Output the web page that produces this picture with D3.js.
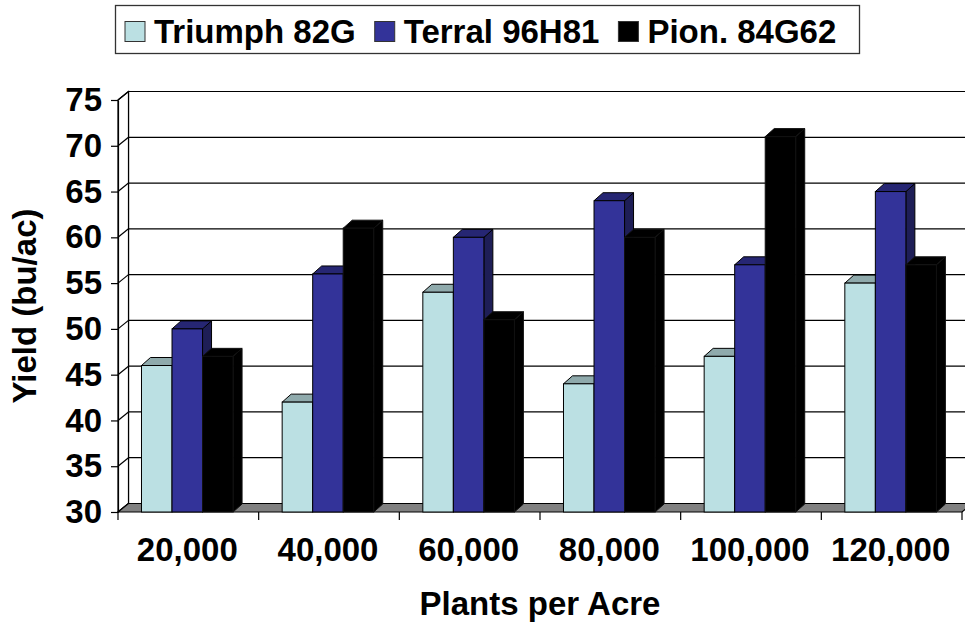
<!DOCTYPE html>
<html>
<head>
<meta charset="utf-8">
<script src="https://cdn.jsdelivr.net/npm/d3@7/dist/d3.min.js"></script>
<style>
  html, body { margin: 0; padding: 0; background: #fff; }
  svg { display: block; }
  text { font-family: "Liberation Sans", Arial, sans-serif; font-weight: bold; fill: #000; }
</style>
</head>
<body>
<svg id="chart" width="965" height="624"></svg>
<script>
// ---- data ----
const categories = ["20,000", "40,000", "60,000", "80,000", "100,000", "120,000"];
const seriesNames = ["Triumph 82G", "Terral 96H81", "Pion. 84G62"];
const triumph = [46, 42, 54, 44, 47, 55];
const terral  = [50, 56, 60, 64, 57, 65];
const pioneer = [47, 61, 51, 60, 71, 57];
const yTicks = [30, 35, 40, 45, 50, 55, 60, 65, 70, 75];
const yTitle = "Yield (bu/ac)";
const xTitle = "Plants per Acre";

(function () {
const FS = 33;
const colors = [
  { front: "#BBE0E3", top: "#8FAAAC", side: "#7E9799", stroke: "#000" },
  { front: "#333399", top: "#262673", side: "#1E1E56", stroke: "#000" },
  { front: "#000000", top: "#000000", side: "#000000", stroke: "#111" }
];
const values = [triumph, terral, pioneer];

const svg = d3.select("#chart");
const pLeft = 118, pRight = 962, pBottom = 512, pTop = 100;
const WDX = 10.5, WDY = -8.5;   // wall depth
const BDX = 9, BDY = -8;        // bar depth

const x = d3.scaleBand().domain(categories).range([pLeft, pRight]).paddingInner(0).paddingOuter(0);
const y = d3.scaleLinear().domain([30, 75]).range([pBottom, pTop]);
const band = x.bandwidth();
const barW = band * 0.217;
const groupOff = band * 0.167;

// back wall
const g = svg.append("g");
g.append("rect")
  .attr("x", pLeft + WDX).attr("y", y(75) + WDY)
  .attr("width", pRight - pLeft + 20).attr("height", y(30) - y(75))
  .attr("fill", "#fff").attr("stroke", "none");

g.selectAll("line.grid").data(yTicks.filter(v => v > 30)).enter().append("line")
  .attr("x1", pLeft + WDX).attr("x2", pRight + WDX + 20)
  .attr("y1", d => y(d) + WDY).attr("y2", d => y(d) + WDY)
  .attr("stroke", "#000").attr("stroke-width", 1.2);
g.append("line")
  .attr("x1", pLeft + WDX).attr("x2", pLeft + WDX)
  .attr("y1", y(75) + WDY).attr("y2", y(30) + WDY)
  .attr("stroke", "#000").attr("stroke-width", 1.2);

// side wall
g.append("path")
  .attr("d", `M${pLeft},${y(75)} L${pLeft + WDX},${y(75) + WDY} L${pLeft + WDX},${y(30) + WDY} L${pLeft},${y(30)} Z`)
  .attr("fill", "#fff").attr("stroke", "#000").attr("stroke-width", 1.2);
g.selectAll("line.sgrid").data(yTicks).enter().append("line")
  .attr("x1", pLeft).attr("x2", pLeft + WDX)
  .attr("y1", d => y(d)).attr("y2", d => y(d) + WDY)
  .attr("stroke", "#000").attr("stroke-width", 1.2);

// floor
g.append("path")
  .attr("d", `M${pLeft},${y(30)} L${pLeft + WDX},${y(30) + WDY} L${pRight + WDX},${y(30) + WDY} L${pRight},${y(30)} Z`)
  .attr("fill", "#808080").attr("stroke", "#000").attr("stroke-width", 1.2);

// bars
const bars = [];
categories.forEach((c, ci) => {
  values.forEach((arr, si) => { bars.push({ c, si, v: arr[ci] }); });
});
const bg = svg.append("g");
bars.forEach(b => {
  const x0 = x(b.c) + groupOff + b.si * barW;
  const x1 = x0 + barW;
  const yt = y(b.v), yb = y(30);
  const col = colors[b.si];
  bg.append("path")
    .attr("d", `M${x1},${yt} L${x1 + BDX},${yt + BDY} L${x1 + BDX},${yb + BDY} L${x1},${yb} Z`)
    .attr("fill", col.side).attr("stroke", col.stroke).attr("stroke-width", 1).attr("stroke-linejoin", "round");
  bg.append("path")
    .attr("d", `M${x0},${yt} L${x0 + BDX},${yt + BDY} L${x1 + BDX},${yt + BDY} L${x1},${yt} Z`)
    .attr("fill", col.top).attr("stroke", col.stroke).attr("stroke-width", 1).attr("stroke-linejoin", "round");
  bg.append("rect")
    .attr("x", x0).attr("y", yt).attr("width", barW).attr("height", yb - yt)
    .attr("fill", col.front).attr("stroke", col.stroke).attr("stroke-width", 1);
});

// y axis
const yAxis = d3.axisLeft(y).tickValues(yTicks).tickSize(7).tickSizeOuter(0).tickPadding(9);
const ya = svg.append("g").attr("transform", `translate(${pLeft},0)`).call(yAxis);
ya.select(".domain").attr("stroke", "#000").attr("stroke-width", 1.2);
ya.selectAll(".tick line").attr("stroke", "#000").attr("stroke-width", 1.2);
ya.selectAll(".tick text").attr("font-size", FS).attr("font-family", "Liberation Sans, Arial, sans-serif").attr("font-weight", "bold").attr("fill", "#000");

// x axis: ticks at category boundaries
const bounds = categories.map(c => x(c)).concat([pRight]);
svg.append("g").selectAll("line").data(bounds).enter().append("line")
  .attr("x1", d => d).attr("x2", d => d).attr("y1", pBottom).attr("y2", pBottom + 8)
  .attr("stroke", "#000").attr("stroke-width", 1.2);
const xAxis = d3.axisBottom(x).tickSize(0).tickPadding(0);
const xa = svg.append("g").attr("transform", `translate(0,${pBottom})`).call(xAxis);
xa.select(".domain").remove();
xa.selectAll(".tick text")
  .attr("font-size", FS).attr("font-family", "Liberation Sans, Arial, sans-serif").attr("font-weight", "bold").attr("fill", "#000")
  .attr("dy", null).attr("y", 49).attr("x", -1);

// axis titles
svg.append("text").attr("x", (pLeft + pRight) / 2).attr("y", 615)
  .attr("text-anchor", "middle").attr("font-size", FS).text(xTitle);
svg.append("text").attr("transform", "translate(36,306) rotate(-90)")
  .attr("text-anchor", "middle").attr("font-size", FS).text(yTitle);

// legend
const lg = svg.append("g");
lg.append("rect").attr("x", 115.5).attr("y", 5.5).attr("width", 744).attr("height", 48)
  .attr("fill", "#fff").attr("stroke", "#333").attr("stroke-width", 1.3);
let lx = 125;
seriesNames.forEach((name, i) => {
  lg.append("rect").attr("x", lx).attr("y", 21.5).attr("width", 20).attr("height", 20)
    .attr("fill", colors[i].front).attr("stroke", "#333").attr("stroke-width", 1);
  const t = lg.append("text").attr("x", lx + 29).attr("y", 42.5).attr("font-size", FS).text(name);
  const w = t.node().getComputedTextLength();
  lx = lx + 29 + w + 19;
});
})();
</script>
</body>
</html>
